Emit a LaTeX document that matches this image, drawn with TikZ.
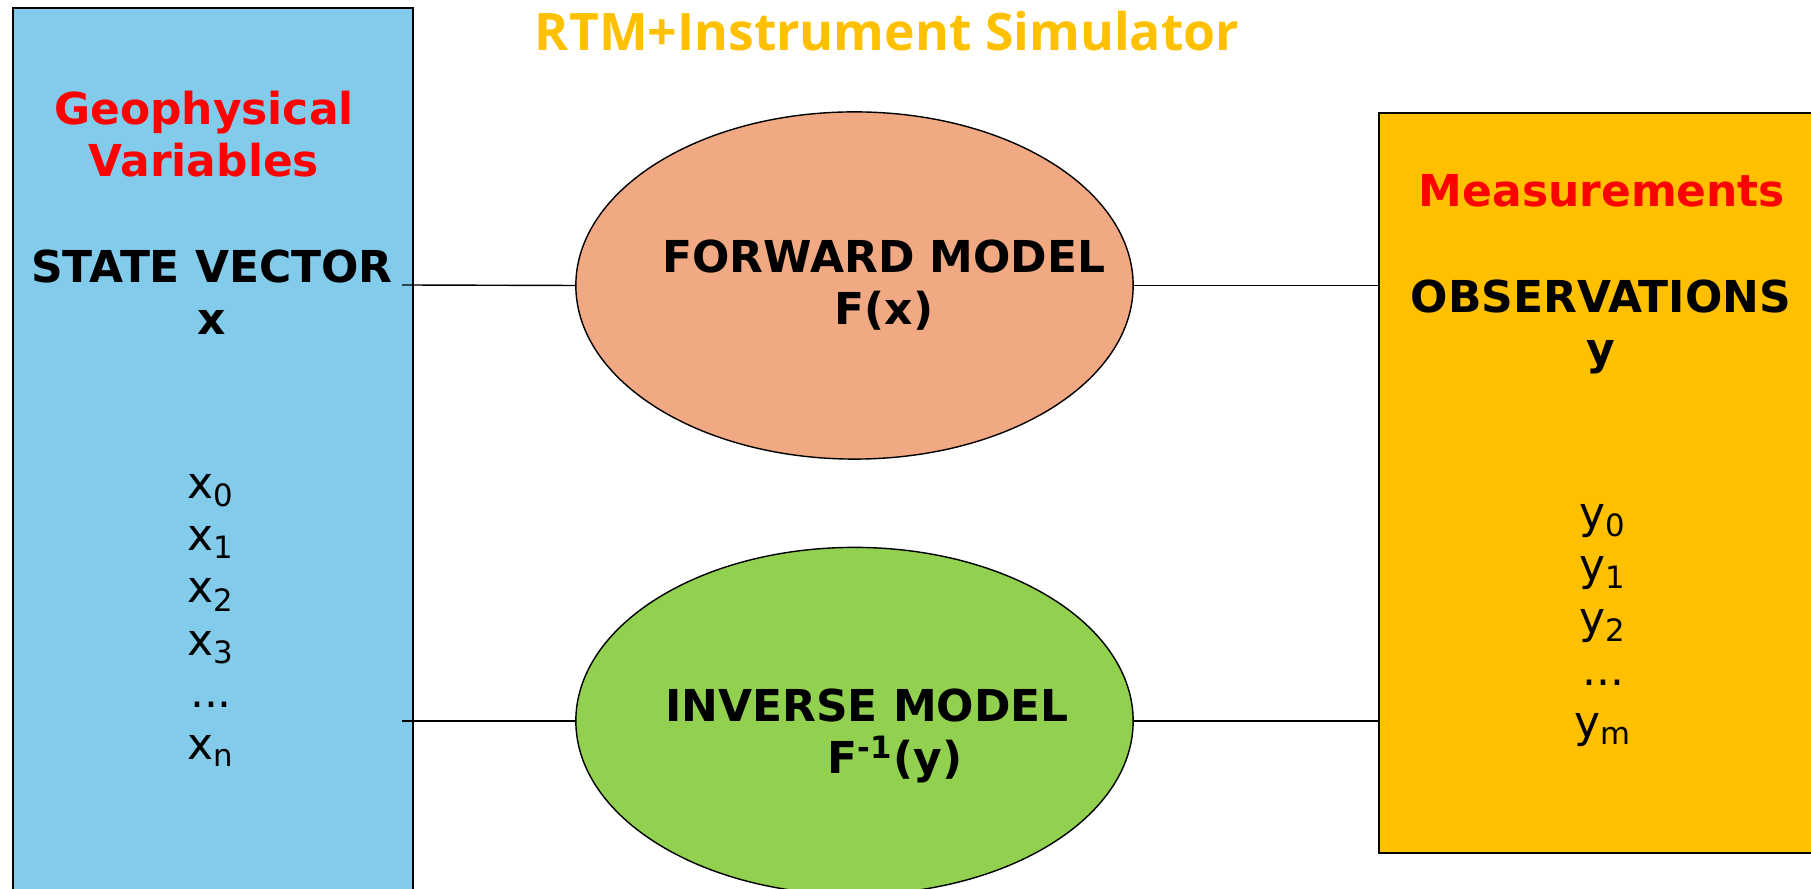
\documentclass[tikz,border=0pt]{standalone}
\usepackage{fontspec}
\setmainfont{DejaVu Sans}
\newfontfamily\titlefont{Open Sans}
\usetikzlibrary{shapes.geometric}
\definecolor{skyfill}{RGB}{131,203,235}
\definecolor{peachfill}{RGB}{241,169,131}
\definecolor{leaffill}{RGB}{146,208,80}
\definecolor{amberfill}{RGB}{255,192,0}
\definecolor{labelred}{RGB}{255,0,0}
\tikzset{
  panel/.style={draw=black, line width=0.5pt, inner sep=0pt, anchor=north west},
  model/.style={ellipse, draw=black, line width=0.4pt, inner sep=0pt,
                minimum width=5.57cm, minimum height=3.47cm},
  heading/.style={font=\fontsize{12.5}{14.8}\selectfont\bfseries, align=center, anchor=base},
  entries/.style={font=\fontsize{12.5}{14.9}\selectfont, align=center, anchor=base},
  link/.style={draw=black, line width=0.4pt}
}
\begin{document}
\begin{tikzpicture}[x=0.01cm, y=-0.01cm]
        \clip (0,0) rectangle (1811,889);
        % Side panels
        \node[panel, fill=skyfill, minimum width=4cm, minimum height=8.95cm] (geo) at (12,7) {};
        \node[panel, fill=amberfill, minimum width=4.45cm, minimum height=7.40cm] (meas) at (1378,112) {};
        % Forward and inverse models
        \node[model, fill=peachfill] (fwd) at (854.5,285.5) {};
        \node[model, fill=leaffill] (inv) at (854.5,721) {};
        % Connectors
        \coordinate (statetap) at (402,285);
        \coordinate (listtap) at (402,721);
        \draw[link] (statetap) -- (fwd.west);
        \draw[link] (fwd.east) -- (fwd.east -| meas.west);
        \draw[link] (listtap) -- (inv.west);
        \draw[link] (inv.east) -- (inv.east -| meas.west);
        % Title
        \node[font=\titlefont\fontsize{14.7}{17}\selectfont\bfseries, text=amberfill, anchor=base]
          (title) at (887,51) {RTM+Instrument Simulator};
        % Left panel text (base = last line)
        \node[heading, text=labelred] (geolabel) at (204,177) {Geophysical\\Variables};
        \node[heading] (statelabel) at (212,335) {STATE VECTOR\\x};
        \node[entries] (xlist) at (211,760)
          {x\textsubscript{0}\\x\textsubscript{1}\\x\textsubscript{2}\\x\textsubscript{3}\\...\\x\textsubscript{n}};
        % Right panel text
        \node[heading, text=labelred] (measlabel) at (1602,207) {Measurements};
        \node[heading] (obslabel) at (1601,365) {OBSERVATIONS\\y};
        \node[entries] (ylist) at (1603,738)
          {y\textsubscript{0}\\y\textsubscript{1}\\y\textsubscript{2}\\...\\y\textsubscript{m}};
        % Model text
        \node[heading] (fwdlabel) at (884,325) {FORWARD MODEL\\F(x)};
        \node[heading] (invlabel) at (867,774)
          {INVERSE MODEL\\\hspace*{0.56cm}F\textsuperscript{-1}(y)};
      \end{tikzpicture}
\end{document}
